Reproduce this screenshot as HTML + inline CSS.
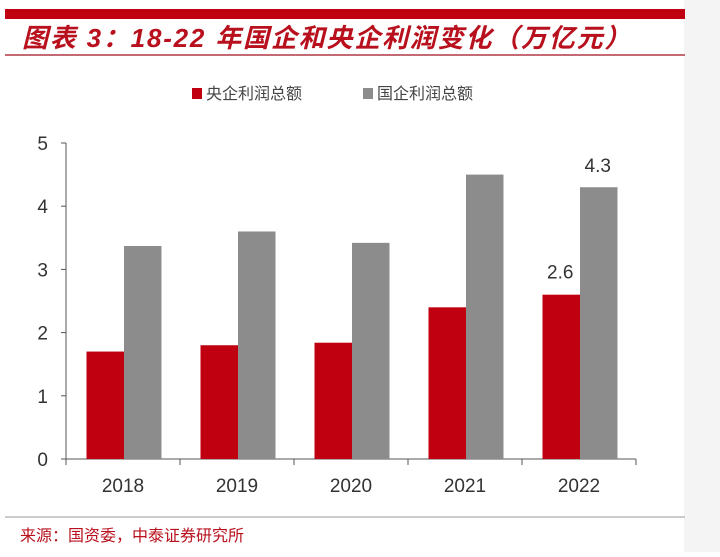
<!DOCTYPE html>
<html><head><meta charset="utf-8"><style>
body{margin:0;width:720px;height:552px;background:#fff;overflow:hidden;font-family:"Liberation Sans","Noto Sans CJK SC",sans-serif}
</style></head><body>
<svg width="720" height="552" xmlns="http://www.w3.org/2000/svg">
<rect x="684" y="0" width="36" height="552" fill="#f4f4f4"/>
<rect x="5" y="9" width="680" height="10" fill="#c00010"/>
<text x="22" y="47" font-size="26" letter-spacing="1.8" font-weight="bold" font-style="italic" fill="#b8101c" font-family="Liberation Sans,Noto Sans CJK SC,sans-serif">图表 3：18-22 年国企和央企利润变化（万亿元）</text>
<line x1="5" y1="55" x2="685" y2="55" stroke="#a01020" stroke-width="1.2"/>
<g>
<rect x="192" y="88" width="10" height="11" fill="#c00010"/>
<text x="206" y="99" font-size="16" fill="#444">央企利润总额</text>
<rect x="363" y="88" width="10" height="11" fill="#8c8c8c"/>
<text x="377" y="99" font-size="16" fill="#444">国企利润总额</text>
</g>
<g id="plot"></g>
<line x1="5" y1="517" x2="685" y2="517" stroke="#999" stroke-width="1"/>
<text x="20" y="541" font-size="16" fill="#b8101c">来源：国资委，中泰证券研究所</text>
</svg>
<script>
const categories=["2018","2019","2020","2021","2022"];
const centralValues=[1.7,1.8,1.84,2.4,2.6];
const stateValues=[3.37,3.6,3.42,4.5,4.3];
const yTicks=[0,1,2,3,4,5];
const centralLabels=[null,null,null,null,"2.6"];
const stateLabels=[null,null,null,null,"4.3"];
const NS="http://www.w3.org/2000/svg";
const g=document.getElementById('plot');
const x0=66,x1=636,y0=459,y5=143;
const band=(x1-x0)/categories.length;
const y=v=>y0-(v/5)*(y0-y5);
const xc=i=>x0+band*i+band/2;
function mk(t,a){const e=document.createElementNS(NS,t);for(const k in a)e.setAttribute(k,a[k]);g.appendChild(e);return e;}
let ax=mk('line',{x1:x0,y1:y5,x2:x0,y2:y0,stroke:'#555'});


let xa=mk('line',{x1:x0,y1:y0,x2:x1,y2:y0,stroke:'#555'});


yTicks.forEach(t=>{
 let l=mk('line',{x1:x0-5,y1:y(t),x2:x0,y2:y(t),stroke:'#555'});
 
 
 let tx=mk('text',{x:x0-18,y:y(t)+7,'font-size':19,fill:'#333','text-anchor':'end'});
 tx.textContent=t;
 
 
});
for(let i=0;i<=categories.length;i++){
 let l=mk('line',{x1:x0+band*i,y1:y0,x2:x0+band*i,y2:y0+6,stroke:'#555'});
 
 
}
const bw=37.5;
categories.forEach((c,i)=>{
 let r1=mk('rect',{x:xc(i)-bw+1,y:y(centralValues[i]),width:bw,height:y0-y(centralValues[i]),fill:'#c00010'});
 
 
 let r2=mk('rect',{x:xc(i)+1,y:y(stateValues[i]),width:bw,height:y0-y(stateValues[i]),fill:'#8c8c8c'});
 
 
 let t=mk('text',{x:xc(i),y:492,'font-size':19,fill:'#333','text-anchor':'middle'});
 t.textContent=c;
 
 
 if(centralLabels[i]){let v=mk('text',{x:xc(i)-bw/2,y:y(centralValues[i])-16,'font-size':19,fill:'#333','text-anchor':'middle'});v.textContent=centralLabels[i];
 
 }
 if(stateLabels[i]){let v=mk('text',{x:xc(i)+bw/2,y:y(stateValues[i])-15,'font-size':19,fill:'#333','text-anchor':'middle'});v.textContent=stateLabels[i];
 
 }
});
</script>
</body></html>
